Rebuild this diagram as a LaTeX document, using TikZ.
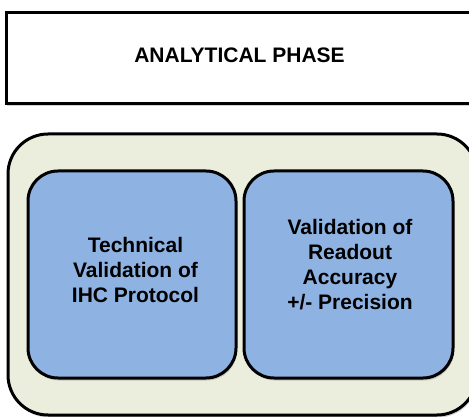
\documentclass[tikz,border=0pt]{standalone}
\usepackage{fontspec}
\setmainfont{Liberation Sans}
\usetikzlibrary{shadows}
\definecolor{outerfill}{HTML}{EBEEDD}
\definecolor{innerfill}{HTML}{8EB3E2}
\begin{document}
\begin{tikzpicture}[x=1pt,y=-1pt,
  boxline/.style={draw=black, line width=3pt},
  shade/.style={drop shadow={opacity=0.35, shadow xshift=1pt, shadow yshift=-2.5pt}},
  label/.style={font=\bfseries\fontsize{21}{25}\selectfont, align=center, text=black}]
\useasboundingbox (0,0) rectangle (469,417);
% top box
\path[boxline, fill=white, shade] (6,13) rectangle (480,104);
\node[label] (title) at (239.5,55) {ANALYTICAL PHASE};
% outer container
\path[boxline, fill=outerfill, shade, rounded corners=40pt] (8,134) rectangle (477,415);
% inner boxes
\path[boxline, fill=innerfill, shade, rounded corners=30pt] (28,171) rectangle (236,378);
\path[boxline, fill=innerfill, shade, rounded corners=30pt] (244,171) rectangle (453,378);
\node[label] (left) at (135.5,270) {Technical\\Validation of\\IHC Protocol};
\node[label] (right) at (350,265) {Validation of\\Readout\\Accuracy\\+/- Precision};
\end{tikzpicture}
\end{document}
